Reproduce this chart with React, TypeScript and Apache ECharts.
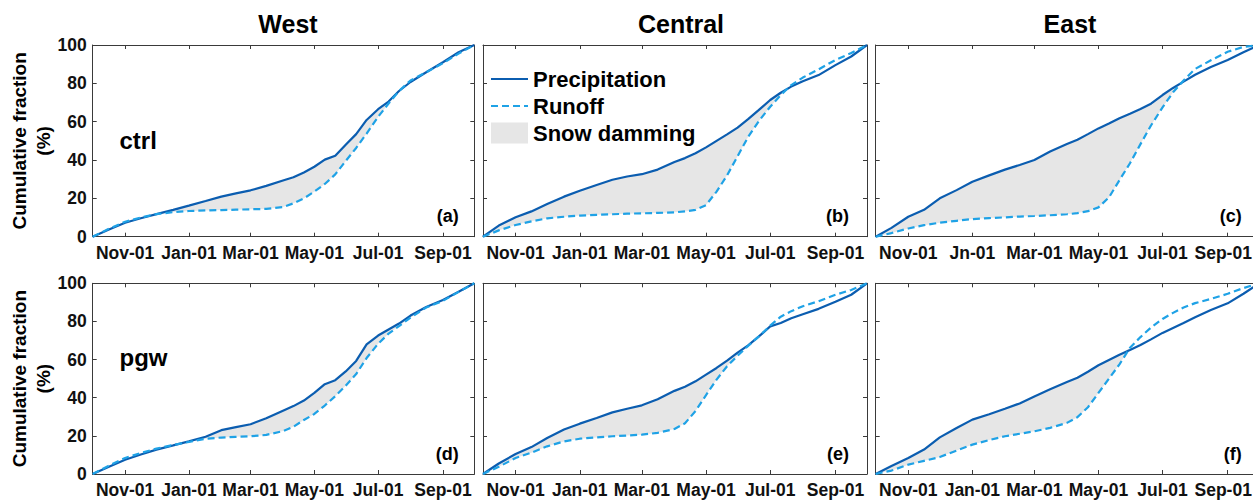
import React, { useEffect, useRef } from "react";
import * as echarts from "echarts";

// Day of water year (0 = Oct-01, 365 = Sep-30 end)
const DAYS = [0, 15, 31, 46, 61, 77, 92, 108, 123, 137, 151, 166, 182, 192, 202, 212, 222, 232, 242, 252, 262, 273, 283, 293, 304, 319, 335, 350, 365];

const CTRL_WEST_PRECIP = [0, 3.6, 7.3, 9.6, 11.8, 14, 16.2, 18.6, 20.9, 22.6, 24.2, 26.5, 29.3, 31, 33.5, 36.5, 40.2, 42.2, 48, 53.5, 60.9, 66.5, 70.5, 76, 80.7, 85.8, 91, 96.2, 100];
const CTRL_WEST_RUNOFF = [0, 4, 7.8, 10, 11.8, 12.8, 13.4, 13.7, 13.9, 14.1, 14.3, 14.5, 15.5, 17.4, 20, 23.5, 27.5, 32.5, 39.5, 46.3, 53.8, 62.5, 69.5, 76, 81.5, 85.8, 90.5, 95.5, 100];

const CTRL_CENTRAL_PRECIP = [0, 5.8, 10.1, 13.2, 17, 20.9, 24, 27, 29.7, 31.4, 32.6, 35, 39, 41, 43.5, 46.6, 50, 53.4, 56.9, 61.3, 66, 71.3, 75.1, 78.3, 81.1, 84.3, 89.5, 94, 100];
const CTRL_CENTRAL_RUNOFF = [0, 3.3, 6.1, 8, 9.6, 10.4, 11, 11.4, 11.7, 12, 12.2, 12.4, 12.7, 13.2, 14, 16.5, 23.5, 32, 42, 52, 60.2, 67.8, 73.9, 79.1, 83, 87.3, 92.2, 95.8, 100];

const CTRL_EAST_PRECIP = [0, 4.6, 10.4, 14, 20, 24.3, 28.7, 32, 35, 37.4, 40, 44.4, 48.3, 50.6, 53.5, 56.5, 59, 61.8, 64.1, 66.6, 69.4, 73.9, 77.6, 80.9, 84.5, 88.5, 92.2, 96.2, 100];
const CTRL_EAST_RUNOFF = [0, 1.9, 4.3, 6, 7.3, 8.3, 9.2, 9.7, 10.1, 10.5, 10.8, 11.2, 11.7, 12.3, 13.3, 15.3, 20.5, 29.5, 38.3, 48.3, 58, 67.5, 75.3, 81.5, 87.5, 92, 96.5, 99, 100];

const PGW_WEST_PRECIP = [0, 3.7, 7.5, 10.2, 12.8, 15, 17.1, 19.5, 23, 24.6, 26.1, 29.2, 33.2, 35.6, 38.5, 42.5, 47.1, 49.2, 53.8, 59.3, 68, 72.6, 75.8, 78.9, 83.1, 87.6, 91.2, 95.6, 100];
const PGW_WEST_RUNOFF = [0, 4.2, 8.4, 11, 13.3, 15.2, 16.8, 18.5, 19.1, 19.5, 19.8, 20.5, 22.5, 24.8, 28.3, 31.5, 35.9, 40.8, 46.3, 52.4, 60.8, 68.3, 73.6, 77.6, 82, 87.3, 90.8, 95.5, 100];

const PGW_CENTRAL_PRECIP = [0, 5.5, 10.5, 14.1, 18.9, 23.3, 26.4, 29.4, 32.3, 34.2, 36, 39.2, 43.6, 45.8, 48.6, 52.1, 55.6, 59.5, 63.6, 67.4, 72, 77.4, 79.2, 81.7, 83.8, 86.6, 90.3, 94, 100];
const PGW_CENTRAL_RUNOFF = [0, 3.8, 8.4, 11.2, 14.5, 17.1, 18.5, 19.2, 19.8, 20.2, 20.6, 21.6, 23.6, 26.6, 33, 41.4, 49.5, 56.5, 62, 67.2, 72, 77.8, 82.5, 85.4, 88, 90.6, 94, 96.5, 100];

const PGW_EAST_PRECIP = [0, 4.2, 8.4, 12.8, 19.2, 24.1, 28.5, 31.3, 34.2, 37, 40.7, 44.4, 48.2, 50.5, 53.6, 57, 59.8, 62.5, 65, 67.6, 70.6, 74, 76.6, 79.2, 82.2, 86, 89.5, 94.5, 100];
const PGW_EAST_RUNOFF = [0, 1.8, 4.9, 6.9, 8.9, 12.3, 15.4, 17.8, 19.8, 21.1, 22.4, 24.2, 26.8, 29.8, 35, 42.5, 50, 57.5, 66.2, 71.8, 76.8, 81.3, 84.5, 87.3, 89.6, 91.8, 94.5, 97.5, 100];

const TICK_DAYS = [31, 92, 151, 212, 273, 335];
const TICK_LABELS = ["Nov-01", "Jan-01", "Mar-01", "May-01", "Jul-01", "Sep-01"];
const TICK_LABELS_C = ["Nov-01", "Jn-01", "Mar-01", "May-01", "Jul-01", "Sep-01"];

const REGIONS = ["West", "Central", "East"];
const RUNS = ["ctrl", "pgw"];
const PANEL_TAGS = ["(a)", "(b)", "(c)", "(d)", "(e)", "(f)"];
const Y_NAME = "Cumulative fraction\n(%)";
const SERIES_NAMES = ["Precipitation", "Runoff", "Snow damming"];

const PANELS = [
  { p: CTRL_WEST_PRECIP, r: CTRL_WEST_RUNOFF, labels: TICK_LABELS },
  { p: CTRL_CENTRAL_PRECIP, r: CTRL_CENTRAL_RUNOFF, labels: TICK_LABELS },
  { p: CTRL_EAST_PRECIP, r: CTRL_EAST_RUNOFF, labels: TICK_LABELS_C },
  { p: PGW_WEST_PRECIP, r: PGW_WEST_RUNOFF, labels: TICK_LABELS },
  { p: PGW_CENTRAL_PRECIP, r: PGW_CENTRAL_RUNOFF, labels: TICK_LABELS },
  { p: PGW_EAST_PRECIP, r: PGW_EAST_RUNOFF, labels: TICK_LABELS },
];

// layout
const COL_LEFT = [92.7, 483, 875.7];
const COL_WIDTH = [381.6, 384, 383.5];
const ROW_TOP = [45, 283.3];
const ROW_HEIGHT = [191.7, 190.7];
const TITLE_X = [288, 681, 1070];

const FONT = '"Liberation Sans", Arial, Helvetica, sans-serif';
const AXIS_COLOR = "#3a3a3a";
const TEXT_COLOR = "#111111";
const P_COLOR = "#0b5db0";
const R_COLOR = "#1fa2e6";
const FILL_COLOR = "#e6e6e6";

const LABEL_STYLE = { fontSize: 17.5, fontWeight: "bold", fontFamily: FONT, color: TEXT_COLOR };

function buildOption() {
  const grid: any[] = [];
  const xAxis: any[] = [];
  const yAxis: any[] = [];
  const series: any[] = [];

  PANELS.forEach((pn, i) => {
    const row = Math.floor(i / 3);
    const col = i % 3;
    const lastCol = col === 2;
    grid.push({
      left: COL_LEFT[col],
      top: ROW_TOP[row],
      width: COL_WIDTH[col],
      height: ROW_HEIGHT[row],
      containLabel: false,
    });
    const axisLine = { show: true, onZero: false, lineStyle: { color: AXIS_COLOR, width: 1 } };
    const xTick = { show: true, inside: true, length: 4, customValues: TICK_DAYS, lineStyle: { color: AXIS_COLOR, width: 1 } };
    xAxis.push({
      gridIndex: i,
      type: "value",
      min: 0,
      max: 365,
      position: "bottom",
      axisLine,
      axisTick: xTick,
      axisLabel: {
        show: true,
        customValues: TICK_DAYS,
        formatter: (v: number) => {
          const idx = TICK_DAYS.indexOf(v);
          const txt = pn.labels[idx] ?? "";
          // the right-most label of the East column sits at the figure edge
          return lastCol && idx === TICK_DAYS.length - 1 ? `{edge|${txt}}` : txt;
        },
        rich: { edge: { ...LABEL_STYLE, padding: [0, 9, 0, 0] } },
        margin: 7,
        ...LABEL_STYLE,
      },
      splitLine: { show: false },
    });
    xAxis.push({
      gridIndex: i,
      type: "value",
      min: 0,
      max: 365,
      position: "top",
      axisLine,
      axisTick: xTick,
      axisLabel: { show: false },
      splitLine: { show: false },
    });
    const yTick = { show: true, inside: true, length: 4, lineStyle: { color: AXIS_COLOR, width: 1 } };
    yAxis.push({
      gridIndex: i,
      type: "value",
      min: 0,
      max: 100,
      interval: 20,
      position: "left",
      axisLine,
      axisTick: yTick,
      axisLabel: { show: col === 0, margin: 6, ...LABEL_STYLE },
      splitLine: { show: false },
    });
    yAxis.push({
      gridIndex: i,
      type: "value",
      min: 0,
      max: 100,
      interval: 20,
      position: "right",
      axisLine,
      axisTick: yTick,
      axisLabel: { show: false },
      splitLine: { show: false },
    });

    const xi = i * 2;
    const yi = i * 2;
    series.push({
      type: "custom",
      name: SERIES_NAMES[2],
      xAxisIndex: xi,
      yAxisIndex: yi,
      silent: true,
      z: 1,
      itemStyle: { color: FILL_COLOR },
      data: [[0, 0]],
      renderItem: (params: any, api: any) => {
        const upper = DAYS.map((d, k) => api.coord([d, Math.max(pn.p[k], pn.r[k])]));
        const lower = DAYS.map((d, k) => api.coord([d, pn.r[k]])).reverse();
        return {
          type: "polygon",
          shape: { points: upper.concat(lower) },
          style: { fill: FILL_COLOR, stroke: null },
        };
      },
    });
    series.push({
      type: "line",
      name: SERIES_NAMES[0],
      xAxisIndex: xi,
      yAxisIndex: yi,
      data: DAYS.map((d, k) => [d, pn.p[k]]),
      showSymbol: false,
      symbol: "none",
      clip: false,
      z: 3,
      itemStyle: { color: P_COLOR },
      lineStyle: { color: P_COLOR, width: 2.2 },
    });
    series.push({
      type: "line",
      name: SERIES_NAMES[1],
      xAxisIndex: xi,
      yAxisIndex: yi,
      data: DAYS.map((d, k) => [d, pn.r[k]]),
      showSymbol: false,
      symbol: "none",
      clip: false,
      z: 4,
      itemStyle: { color: R_COLOR },
      lineStyle: { color: R_COLOR, width: 2.2, type: [7, 4] },
    });
  });

  const graphic: any[] = [];
  REGIONS.forEach((name, c) => {
    graphic.push({
      type: "text",
      x: TITLE_X[c],
      y: 24,
      style: { text: name, fontSize: 25, fontWeight: "bold", fontFamily: FONT, fill: "#000", align: "center", verticalAlign: "middle" },
    });
  });
  RUNS.forEach((run, r) => {
    graphic.push({
      type: "text",
      x: 119.5,
      y: r === 0 ? 140 : 357,
      style: { text: run, fontSize: 24, fontWeight: "bold", fontFamily: FONT, fill: "#000", align: "left", verticalAlign: "middle" },
    });
    graphic.push({
      type: "text",
      x: 31,
      y: ROW_TOP[r] + ROW_HEIGHT[r] / 2,
      rotation: Math.PI / 2,
      style: { text: Y_NAME, fontSize: 19, fontWeight: "bold", fontFamily: FONT, fill: "#000", align: "center", verticalAlign: "middle", lineHeight: 24 },
    });
  });
  PANEL_TAGS.forEach((tag, i) => {
    const row = Math.floor(i / 3);
    const col = i % 3;
    graphic.push({
      type: "text",
      x: COL_LEFT[col] + 366,
      y: row === 0 ? 215.5 : 454,
      style: { text: tag, fontSize: 18, fontWeight: "bold", fontFamily: FONT, fill: "#000", align: "right", verticalAlign: "middle" },
    });
  });

  return {
    animation: false,
    backgroundColor: "#ffffff",
    grid,
    xAxis,
    yAxis,
    series,
    graphic,
    legend: {
      orient: "vertical",
      left: 490,
      top: 68,
      padding: 0,
      itemWidth: 37,
      itemHeight: 21,
      itemGap: 5,
      selectedMode: false,
      textStyle: { fontSize: 22, fontWeight: "bold", fontFamily: FONT, color: "#000" },
      data: [
        { name: SERIES_NAMES[0], itemStyle: { opacity: 0 } },
        { name: SERIES_NAMES[1], itemStyle: { opacity: 0 } },
        { name: SERIES_NAMES[2], icon: "rect" },
      ],
    },
  };
}

export default function App() {
  const ref = useRef<HTMLDivElement>(null);
  useEffect(() => {
    if (!ref.current) return;
    const chart = echarts.init(ref.current, null, { renderer: "svg" });
    chart.setOption(buildOption());
    return () => chart.dispose();
  }, []);
  return (
    <div
      ref={ref}
      style={{ position: "fixed", left: 0, top: 0, width: 1260, height: 500, background: "#fff" }}
    />
  );
}
